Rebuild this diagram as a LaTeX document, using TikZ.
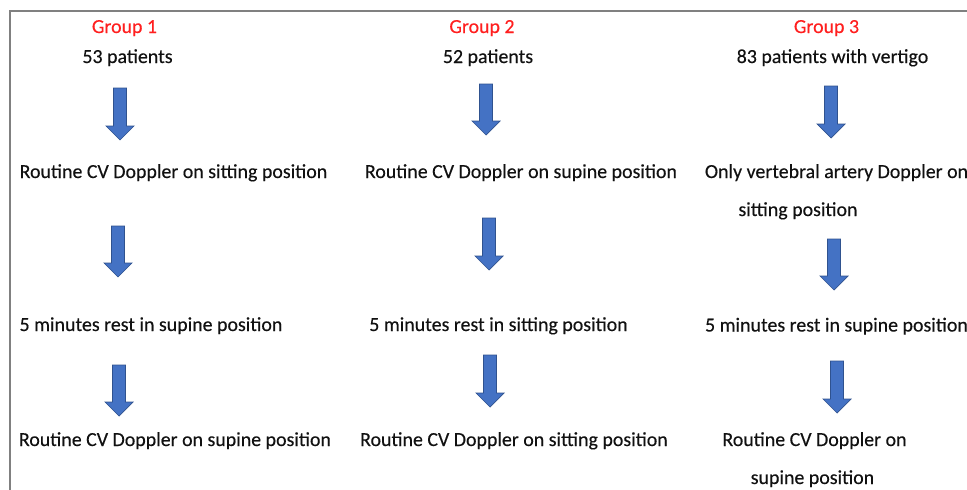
\documentclass[tikz,border=0pt]{standalone}
\usepackage{fontspec}
\setmainfont{Carlito}[RawFeature={embolden=0.3}]
\usetikzlibrary{calc}
\definecolor{grpred}{HTML}{FF1F1F}
\definecolor{arrfill}{HTML}{4472C4}
\definecolor{arrline}{HTML}{2F528F}
\definecolor{framegray}{HTML}{808080}
\definecolor{ink}{HTML}{111111}
\begin{document}
\begin{tikzpicture}[x=1pt,y=-1pt,
  txt/.style={anchor=base, inner sep=0pt, font=\fontsize{19.9}{23}\selectfont, text=ink},
  grp/.style={txt, text=grpred},
  frameline/.style={draw=framegray, line width=1.5pt},
  blockarrow/.style={draw=arrline, fill=arrfill, line width=0.7pt, line join=miter,
    to path={let \p1=(\tikztostart), \p2=(\tikztotarget) in
      (\x1-6.5pt,\y1) -- (\x1+6.5pt,\y1) -- (\x1+6.5pt,\y2+14pt) -- (\x1+14pt,\y2+14pt)
      -- (\x1,\y2) -- (\x1-14pt,\y2+14pt) -- (\x1-6.5pt,\y2+14pt) -- cycle}}]
\useasboundingbox (0,0) rectangle (967,490);

% frame
\coordinate (fbl) at (10,491);
\coordinate (ftl) at (10,11);
\coordinate (ftr) at (968,11);
\draw[frameline] (fbl) -- (ftl) -- (ftr);

% Group 1
\node[grp] (g1) at (124.5,33) {Group 1};
\node[txt] (g1a) at (127.5,63) {53 patients};
\node[txt] (g1b) at (173.5,178) {Routine CV Doppler on sitting position};
\node[txt] (g1c) at (151,331) {5 minutes rest in supine position};
\node[txt] (g1d) at (175,446) {Routine CV Doppler on supine position};

% Group 2
\node[grp] (g2) at (482,33) {Group 2};
\node[txt] (g2a) at (488,63) {52 patients};
\node[txt] (g2b) at (521,178) {Routine CV Doppler on supine position};
\node[txt] (g2c) at (498.5,331) {5 minutes rest in sitting position};
\node[txt] (g2d) at (514,446) {Routine CV Doppler on sitting position};

% Group 3
\node[grp] (g3) at (826.5,33) {Group 3};
\node[txt] (g3a) at (832.5,63) {83 patients with vertigo};
\node[txt] (g3b) at (836.5,178) {Only vertebral artery Doppler on};
\node[txt] (g3b2) at (798,216) {sitting position};
\node[txt] (g3c) at (836.5,331.5) {5 minutes rest in supine position};
\node[txt] (g3d) at (814.5,446) {Routine CV Doppler on};
\node[txt] (g3d2) at (812.5,484) {supine position};

% arrow end points
\coordinate (p11) at (120,88);  \coordinate (q11) at (120,140);
\coordinate (p12) at (118,226); \coordinate (q12) at (118,277);
\coordinate (p13) at (119,365); \coordinate (q13) at (119,416);
\coordinate (p21) at (486,84);  \coordinate (q21) at (486,135);
\coordinate (p22) at (489,218); \coordinate (q22) at (489,270);
\coordinate (p23) at (490,355); \coordinate (q23) at (490,407);
\coordinate (p31) at (831,86);  \coordinate (q31) at (831,138);
\coordinate (p32) at (834,239); \coordinate (q32) at (834,290);
\coordinate (p33) at (837,361); \coordinate (q33) at (837,413);

\draw[blockarrow] (p11) to (q11);
\draw[blockarrow] (p12) to (q12);
\draw[blockarrow] (p13) to (q13);
\draw[blockarrow] (p21) to (q21);
\draw[blockarrow] (p22) to (q22);
\draw[blockarrow] (p23) to (q23);
\draw[blockarrow] (p31) to (q31);
\draw[blockarrow] (p32) to (q32);
\draw[blockarrow] (p33) to (q33);
\end{tikzpicture}
\end{document}
